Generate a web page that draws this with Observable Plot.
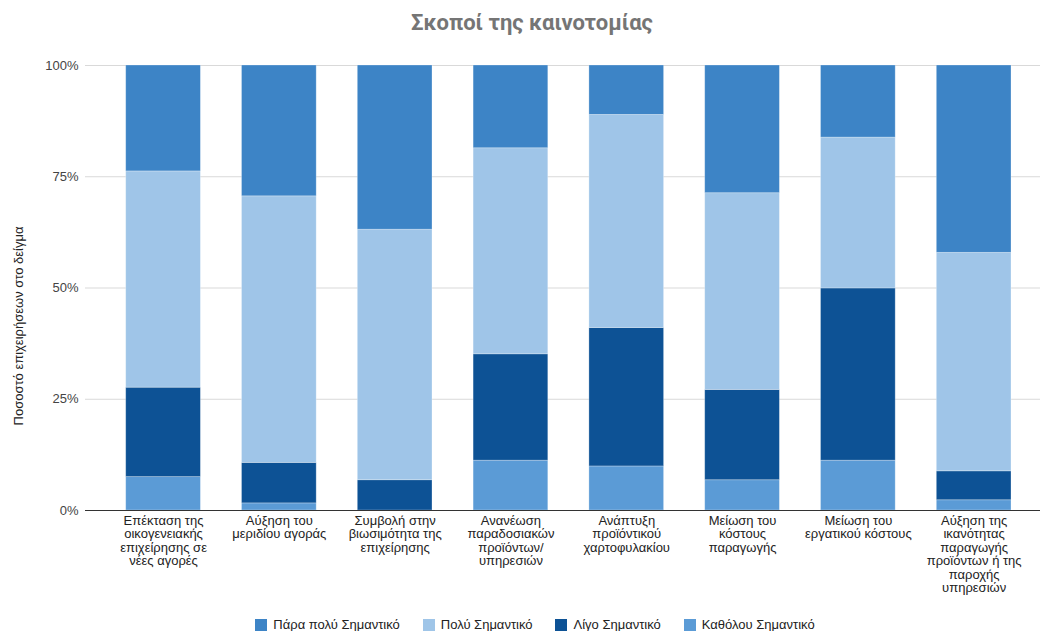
<!DOCTYPE html>
<html>
<head>
<meta charset="utf-8">
<script src="https://cdn.jsdelivr.net/npm/d3@7"></script>
<script src="https://cdn.jsdelivr.net/npm/@observablehq/plot@0.6"></script>
<style>
  body { margin: 0; background: #fff; font-family: "Liberation Sans", Arial, sans-serif; }
  #title { height: 44px; box-sizing: border-box; padding-top: 10px; line-height: 26px; text-align: center; padding-left: 24px;
           font: bold 22px Roboto, sans-serif; color: #757575; }
  #chart svg { display: block; }
  #legend { height: 17px; margin-top: 2px; display: flex; justify-content: center; align-items: center;
            padding-left: 30px; font-size: 13px; color: #222; }
  #legend .item { display: flex; align-items: center; margin: 0 11.5px; }
  #legend .sw { width: 12px; height: 12px; margin-right: 6px; }
</style>
</head>
<body>
<div id="title">Σκοποί της καινοτομίας</div>
<div id="chart"></div>
<div id="legend"></div>
<script>
// Innovation goals, share of firms in the sample (percent) per importance level
const categories = [
  "Επέκταση της οικογενειακής επιχείρησης σε νέες αγορές",
  "Αύξηση του μεριδίου αγοράς",
  "Συμβολή στην βιωσιμότητα της επιχείρησης",
  "Ανανέωση παραδοσιακών προϊόντων/υπηρεσιών",
  "Ανάπτυξη προϊόντικού χαρτοφυλακίου",
  "Μείωση του κόστους παραγωγής",
  "Μείωση του εργατικού κόστους",
  "Αύξηση της ικανότητας παραγωγής προϊόντων ή της παροχής υπηρεσιών"
];
const tickLabels = [
  "Επέκταση της\nοικογενειακής\nεπιχείρησης σε\nνέες αγορές",
  "Αύξηση του\nμεριδίου αγοράς",
  "Συμβολή στην\nβιωσιμότητα της\nεπιχείρησης",
  "Ανανέωση\nπαραδοσιακών\nπροϊόντων/\nυπηρεσιών",
  "Ανάπτυξη\nπροϊόντικού\nχαρτοφυλακίου",
  "Μείωση του\nκόστους\nπαραγωγής",
  "Μείωση του\nεργατικού κόστους",
  "Αύξηση της\nικανότητας\nπαραγωγής\nπροϊόντων ή της\nπαροχής\nυπηρεσιών"
];

// Stacked from the bottom up
const series = ["Καθόλου Σημαντικό", "Λίγο Σημαντικό", "Πολύ Σημαντικό", "Πάρα πολύ Σημαντικό"];
const notAtAll  = [7.5, 1.6, 0.0, 11.2, 9.9, 6.8, 11.2, 2.3];
const slightly  = [20.1, 9.1, 6.8, 23.9, 31.1, 20.3, 38.7, 6.5];
const very      = [48.6, 59.9, 56.3, 46.3, 47.9, 44.2, 33.9, 49.1];
const extremely = [23.8, 29.4, 36.9, 18.6, 11.1, 28.7, 16.2, 42.1];
const seriesColors = ["#5b9bd6", "#0d5295", "#9fc5e8", "#3d84c6"];

// Legend order as displayed
const legendOrder = ["Πάρα πολύ Σημαντικό", "Πολύ Σημαντικό", "Λίγο Σημαντικό", "Καθόλου Σημαντικό"];
const yTicks = [0, 25, 50, 75, 100];
const yLabel = "Ποσοστό επιχειρήσεων στο δείγμα";

const valuesBySeries = [notAtAll, slightly, very, extremely];
const rows = [];
series.forEach((s, si) => {
  categories.forEach((c, ci) => rows.push({category: c, series: s, value: valuesBySeries[si][ci]}));
});

const labelOf = new Map(categories.map((c, i) => [c, tickLabels[i]]));

const chart = Plot.plot({
  width: 1040,
  height: 570,
  marginTop: 21,
  marginBottom: 104,
  marginLeft: 85,
  marginRight: 0,
  style: {fontFamily: "'Liberation Sans', Arial, sans-serif", fontSize: "13px", color: "#444"},
  x: {domain: categories, range: [125.7, 1011], paddingInner: 0.355, paddingOuter: 0, align: 0.5, round: false},
  y: {domain: [0, 100]},
  color: {domain: series, range: seriesColors},
  marks: [
    Plot.ruleY([25, 50, 75, 100], {stroke: "#d9d9d9", strokeWidth: 1}),
    // each column sums to 100%
    Plot.barY(rows, Plot.stackY({
      x: "category",
      y: "value",
      fill: "series",
      stroke: "#ffffff",
      strokeOpacity: 0.35,
      strokeWidth: 0.8
    })),
    Plot.ruleY([0], {stroke: "#333", strokeWidth: 1}),
    Plot.axisY({
      ticks: yTicks,
      tickFormat: d => d + "%",
      tickSize: 0,
      tickPadding: 7,
      label: null,
      fontSize: 13,
      fill: "#444"
    }),
    Plot.axisX({
      tickSize: 0,
      tickPadding: 5,
      tickFormat: d => labelOf.get(d),
      lineHeight: 1.03,
      fontSize: 13,
      label: null,
      fill: "#222"
    }),
    Plot.text([yLabel], {
      frameAnchor: "left",
      textAnchor: "middle",
      rotate: -90,
      dx: -67,
      dy: 38,
      fontSize: 13,
      fill: "#222"
    })
  ]
});
document.getElementById("chart").append(chart);

const legend = document.getElementById("legend");
legendOrder.forEach(name => {
  const item = document.createElement("div");
  item.className = "item";
  const sw = document.createElement("div");
  sw.className = "sw";
  sw.style.background = seriesColors[series.indexOf(name)];
  const label = document.createElement("span");
  label.textContent = name;
  item.append(sw, label);
  legend.append(item);
});
</script>
</body>
</html>
